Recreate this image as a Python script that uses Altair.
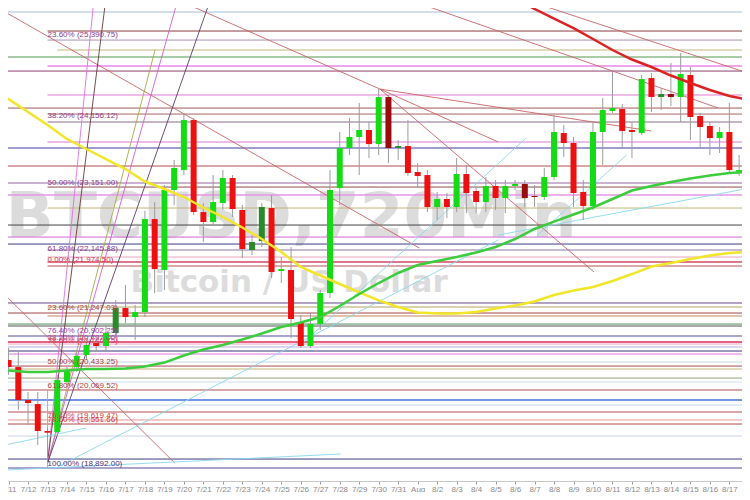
import altair as alt
import pandas as pd

# ---- candles (12h bars); time in "July day" units (Aug 1 = 32)
candle_t = [11.0, 11.5, 12.0, 12.5, 13.0, 13.5, 14.0, 14.5, 15.0, 15.5,
            16.0, 16.5, 17.0, 17.5, 18.0, 18.5, 19.0, 19.5, 20.0, 20.5,
            21.0, 21.5, 22.0, 22.5, 23.0, 23.5, 24.0, 24.5, 25.0, 25.5,
            26.0, 26.5, 27.0, 27.5, 28.0, 28.5, 29.0, 29.5, 30.0, 30.5,
            31.0, 31.5, 32.0, 32.5, 33.0, 33.5, 34.0, 34.5, 35.0, 35.5,
            36.0, 36.5, 37.0, 37.5, 38.0, 38.5, 39.0, 39.5, 40.0, 40.5,
            41.0, 41.5, 42.0, 42.5, 43.0, 43.5, 44.0, 44.5, 45.0, 45.5,
            46.0, 46.5, 47.0, 47.5, 48.0, 48.5]
c_open = [20462, 20356, 19856, 19795, 19386, 19371, 20129, 20356, 20538, 20720,
          20675, 20872, 21251, 21114, 21190, 22600, 21827, 23040, 23343, 24101,
          22706, 22555, 22843, 23222, 22737, 22130, 22267, 22767, 21812, 21827,
          21039, 20675, 21008, 21478, 23070, 23677, 23844, 23950, 23737, 24450,
          23677, 23707, 23313, 23267, 22782, 22904, 22782, 23283, 23025, 22858,
          23101, 22919, 23101, 23131, 22934, 22934, 23237, 23904, 23753, 23010,
          22797, 23920, 24238, 24268, 23950, 23904, 24738, 24450, 24496, 24450,
          24784, 24162, 24011, 23828, 23920, 23298]
c_close = [20356, 19856, 19810, 19386, 19360, 20159, 20311, 20523, 20690, 20675,
           20872, 21251, 21114, 21190, 22600, 21842, 23040, 23374, 24101, 22706,
           22555, 22858, 23222, 22752, 22145, 22252, 22782, 21797, 21842, 21084,
           20675, 21008, 21478, 23040, 23677, 23844, 23950, 23737, 24450, 23677,
           23707, 23298, 23252, 22782, 22904, 22782, 23283, 22995, 22858, 23101,
           22919, 23101, 23131, 22919, 22949, 23237, 23920, 23753, 22995, 22797,
           23920, 24253, 24283, 23935, 23920, 24723, 24450, 24496, 24450, 24799,
           24147, 23995, 23828, 23920, 23343, 23343]
c_high = [20644, 20614, 19977, 19977, 19431, 20235, 20372, 20614, 20766, 20796,
          20993, 21372, 21600, 21296, 22722, 22858, 23116, 23495, 24208, 24132,
          22843, 23267, 23343, 23267, 22813, 22358, 22843, 22964, 22024, 22176,
          21145, 21175, 21524, 23343, 23920, 24132, 24359, 24071, 24572, 24481,
          23798, 24101, 23449, 23343, 23010, 22995, 23525, 23419, 23085, 23237,
          23192, 23192, 23192, 23192, 23116, 23374, 24177, 24026, 23844, 23192,
          24071, 24435, 24829, 24344, 24071, 24784, 24814, 24587, 24966, 25117,
          24905, 24208, 24071, 23995, 24359, 23571]
c_low = [20235, 19704, 19477, 19174, 18892, 19356, 20083, 20280, 20462, 20584,
         20584, 20796, 21023, 20766, 21114, 21478, 21524, 22813, 23267, 22661,
         22252, 22510, 22737, 22631, 22009, 22055, 22176, 21706, 21630, 20796,
         20644, 20644, 20917, 21402, 22813, 23571, 23267, 23525, 23571, 23449,
         23495, 23252, 23085, 22706, 22585, 22616, 22706, 22691, 22691, 22706,
         22737, 22691, 23040, 22782, 22782, 22888, 23192, 23540, 22782, 22585,
         22737, 23419, 24208, 23692, 23525, 23874, 24223, 24253, 24314, 24071,
         23798, 23692, 23571, 23601, 23313, 23252]
c_kind = ["r", "r", "r", "r", "r", "g", "g", "g", "g", "r",
          "g", "dg", "r", "g", "g", "r", "g", "g", "g", "r",
          "r", "g", "g", "r", "r", "dg", "dg", "r", "g", "r",
          "r", "g", "g", "g", "g", "g", "g", "r", "g", "dr",
          "dg", "r", "r", "r", "g", "r", "g", "r", "r", "g",
          "r", "g", "g", "dr", "dr", "g", "g", "r", "r", "r",
          "g", "g", "g", "r", "r", "g", "r", "dg", "dr", "g",
          "r", "r", "r", "g", "r", "g"]
kind_color = {"g": "#14dc14", "r": "#ec1010", "dg": "#2a8a2a", "dr": "#9a0c0c"}

# ---- horizontal levels
h_price = [25739, 25451, 25314, 25163, 25057, 24920, 24844, 24481, 24283, 24192,
           24071, 23768, 23677, 23404, 23146, 23085, 22964, 22767, 22509, 22327,
           22221, 22130, 22024, 21948, 21888, 21327, 21266, 21175, 21130, 21008,
           20978, 20826, 20735, 20705, 20660, 20599, 20553, 20432, 20371, 20326,
           20189, 20129, 20008, 19856, 19780, 19674, 19553, 19492, 19310, 18961,
           18825]
h_color = ["#c0d4e4", "#8b3c3c", "#a894b0", "#c8b478", "#4f9a4f", "#e88ae8", "#8e3f70", "#e27ad8", "#a35a5a", "#a86464",
           "#b49cb4", "#d878d8", "#3c3c9c", "#b24e4e", "#b898c0", "#8e4c4c", "#e696e6", "#c4b478", "#444444", "#d466d4",
           "#3c3c8c", "#b4a4c4", "#e4a4bc", "#d44a66", "#b45454", "#64448a", "#b4a464", "#a44444", "#c48464", "#4e8e5e",
           "#545454", "#aca4cc", "#e46484", "#f4a4c4", "#bcacd4", "#343474", "#e474e4", "#c4d4e4", "#a44c4c", "#c4b474",
           "#94a474", "#ccdcec", "#b44c4c", "#7494e4", "#ccd4ec", "#b44c4c", "#e49494", "#b44c4c", "#ccd4e4", "#3c3c84",
           "#aca4cc"]
h_width = [1.5, 1, 1, 1, 1, 1.5, 1, 1, 1, 1,
           1.5, 1, 1, 1, 1.5, 1, 1.5, 1, 1, 1,
           1, 1.5, 1, 1.5, 1, 1, 1, 1, 1, 1,
           1, 2, 2, 1, 1, 1, 1, 1, 1, 1,
           1, 1, 1, 2, 1, 1, 1, 1, 1, 1,
           2]
h_start = [10.8, 13.0, 13.0, 13.5, 10.8, 13.0, 10.8, 13.0, 10.8, 13.0,
           13.0, 13.0, 10.8, 10.8, 10.8, 13.0, 10.8, 13.0, 10.8, 10.8,
           10.8, 13.0, 13.0, 13.0, 13.0, 10.8, 13.0, 10.8, 13.0, 10.8,
           10.8, 10.8, 10.8, 10.8, 10.8, 10.8, 10.8, 10.8, 10.8, 10.8,
           10.8, 10.8, 10.8, 10.8, 10.8, 10.8, 10.8, 10.8, 10.8, 10.8,
           10.8]

# ---- trend / fan lines (t1, p1, t2, p2, colour)
seg_t1 = [10.823, 19.684, 31.582, 30.063, 30.063, 30.063, 10.823, 37.557,
          13.0, 13.0, 13.0, 13.0, 13.0,
          10.823, 10.823, 13.506, 36.139, 26.013, 38.165,
          13.0]
seg_p1 = [25739, 25921, 25921, 24571, 24571, 24571, 21448, 25921,
          18901, 18901, 18901, 18901, 18901,
          18794, 19174, 18840, 22358, 20690, 22358,
          20008]
seg_t2 = [32.089, 30.063, 47.430, 43.987, 36.139, 41.051, 19.532, 48.797,
          15.380, 15.987, 18.519, 19.684, 21.354,
          28.038, 14.975, 36.139, 48.797, 37.557, 42.722,
          13.0]
seg_p2 = [22160, 24571, 24283, 23935, 23768, 21797, 18901, 24829,
          25921, 25921, 25163, 25921, 25921,
          19037, 19432, 22282, 23055, 23828, 23571,
          18825]
seg_color = ["#c86464", "#c86464", "#c86464", "#c86464", "#c86464", "#c86464", "#c86464", "#c86464",
             "#e070e0", "#6a3a3a", "#a8a848", "#d060d0", "#5a3a6a",
             "#88d8f0", "#88d8f0", "#88d8f0", "#88d8f0", "#88d8f0", "#88d8f0",
             "#aaaaaa"]

# ---- moving averages
ma_t = [10.823, 11, 12, 13, 14, 15, 16, 17, 18, 19, 20, 21, 22, 23, 24, 25, 26, 27, 28, 29,
        30, 31, 32, 33, 34, 35, 36, 37, 38, 39, 40, 41, 42, 43, 44, 45, 46, 47, 48, 48.797]
ma_yellow = [24450, 24420, 24223, 24026, 23813, 23662, 23510, 23358, 23169, 23055,
             22934, 22775, 22631, 22472, 22297, 22100, 21873, 21744, 21615, 21487,
             21366, 21266, 21183, 21168, 21168, 21190, 21243, 21289, 21349, 21448,
             21516, 21569, 21660, 21766, 21880, 21933, 21994, 22047, 22085, 22100]
ma_green = [20311, 20303, 20280, 20280, 20303, 20326, 20326, 20333, 20364, 20424,
            20531, 20622, 20690, 20773, 20864, 20963, 21031, 21114, 21281, 21463,
            21630, 21782, 21903, 21963, 22024, 22092, 22176, 22297, 22449, 22562,
            22669, 22775, 22904, 23032, 23101, 23161, 23214, 23260, 23298, 23313]
ma_red_t = [36.5, 37, 38, 39, 40, 41, 42, 43, 44, 45, 46, 47, 48, 48.797]
ma_red = [26040, 25944, 25785, 25640, 25496, 25330, 25163, 25019, 24905, 24776,
          24663, 24556, 24465, 24420]

# ---- fibonacci labels
fib_text = ["23.60% (25,390.75)", "38.20% (24,156.12)", "50.00% (23,151.00)", "61.80% (22,145.88)",
            "0.00% (21,974.50)", "23.60% (21,247.03)", "76.40% (20,902.25)", "38.20% (20,797.00)",
            "78.60% (20,746.75)", "50.00% (20,433.25)", "61.80% (20,069.52)", "76.40% (19,619.47)",
            "78.60% (19,551.66)", "100.00% (18,892.00)"]
fib_price = [25390.75, 24156.12, 23151.00, 22145.88, 21974.50, 21247.03, 20902.25, 20797.00,
             20746.75, 20433.25, 20069.52, 19619.47, 19551.66, 18892.00]
fib_color = ["#8a3c8a", "#8a3c8a", "#8a3c8a", "#8a3c8a", "#d03044", "#b04040", "#a03ca0", "#c0407c",
             "#d04060", "#b04040", "#b04040", "#d04040", "#d04040", "#50307a"]

tick_days = list(range(11, 49))

wm_text = ["BTCUSD,720Min", "Bitcoin / US Dollar"]
wm_t = [25.507, 25.405]
wm_p = [22327, 21493]
wm_size = [63, 31]

# ---------------------------------------------------------------
xs = alt.Scale(domain=[11.228, 48.392], nice=False, zero=False)
ys = alt.Scale(domain=[18628, 25800], nice=False, zero=False)
xaxis = alt.Axis(values=tick_days, grid=False, title=None,
                 labelExpr="datum.value <= 31 ? '7/' + datum.value : (datum.value == 32 ? 'Aug' : '8/' + (datum.value - 31))",
                 domainColor="#c8c8c8", tickColor="#9a9a9a", tickSize=3,
                 labelColor="#8a8a8a", labelFontSize=8, labelFont="Liberation Sans",
                 labelPadding=1, labelOverlap=False, labelFlush=False)


def X(f):
    return alt.X(f, type="quantitative", scale=xs, axis=xaxis)


def Y(f):
    return alt.Y(f, type="quantitative", scale=ys, axis=None)


candles = pd.DataFrame({"t": candle_t, "o": c_open, "c": c_close, "h": c_high, "l": c_low,
                        "col": [kind_color[k] for k in c_kind]})
hl = pd.DataFrame({"p": h_price, "col": h_color, "w": h_width, "t0": h_start,
                   "t1": [48.9] * len(h_price)})
segs = pd.DataFrame({"t1": seg_t1, "p1": seg_p1, "t2": seg_t2, "p2": seg_p2, "col": seg_color})
ma_df = pd.DataFrame({"t": ma_t, "yel": ma_yellow, "grn": ma_green})
red_df = pd.DataFrame({"t": ma_red_t, "p": ma_red})
fib = pd.DataFrame({"txt": fib_text, "p": fib_price, "col": fib_color, "t": [13.0] * len(fib_text)})
wm = pd.DataFrame({"txt": wm_text, "t": wm_t, "p": wm_p, "s": wm_size})

watermark = alt.Chart(wm).mark_text(font="DejaVu Sans", fontWeight="bold", color="#dcdcdc",
                                     align="center", baseline="alphabetic").encode(
    x=X("t"), y=Y("p"), text="txt:N", size=alt.Size("s:Q", scale=None))

hlines = alt.Chart(hl).mark_rule(clip=True).encode(
    x=X("t0"), x2="t1", y=Y("p"),
    color=alt.Color("col:N", scale=None),
    strokeWidth=alt.StrokeWidth("w:Q", scale=None))

diag = alt.Chart(segs).mark_rule(clip=True, strokeWidth=0.9).encode(
    x=X("t1"), x2="t2", y=Y("p1"), y2="p2",
    color=alt.Color("col:N", scale=None))

wicks = alt.Chart(candles).mark_rule(clip=True, color="#9c9c9c", strokeWidth=1).encode(
    x=X("t"), y=Y("l"), y2="h")

bodies = alt.Chart(candles).mark_bar(clip=True, size=6).encode(
    x=X("t"), y=Y("o"), y2="c", color=alt.Color("col:N", scale=None))

yellow = alt.Chart(ma_df).mark_line(clip=True, color="#f2e628", strokeWidth=2.5).encode(
    x=X("t"), y=Y("yel"))
green = alt.Chart(ma_df).mark_line(clip=True, color="#3ccc3c", strokeWidth=2.5).encode(
    x=X("t"), y=Y("grn"))
red = alt.Chart(red_df).mark_line(clip=True, color="#dc2222", strokeWidth=2.5).encode(
    x=X("t"), y=Y("p"))

labels = alt.Chart(fib).mark_text(clip=True, align="left", baseline="middle",
                                  font="Liberation Sans", fontSize=8).encode(
    x=X("t"), y=Y("p"), text="txt:N", color=alt.Color("col:N", scale=None))

chart = alt.layer(watermark, hlines, diag, wicks, bodies, yellow, green, red, labels).properties(
    width=734, height=473,
    autosize=alt.AutoSizeParams(type="none"),
    padding={"left": 0, "top": 0, "right": 0, "bottom": 11},
    background="white",
).configure_view(strokeWidth=0)

chart.save("out.html", embed_options={"renderer": "svg", "actions": False})
